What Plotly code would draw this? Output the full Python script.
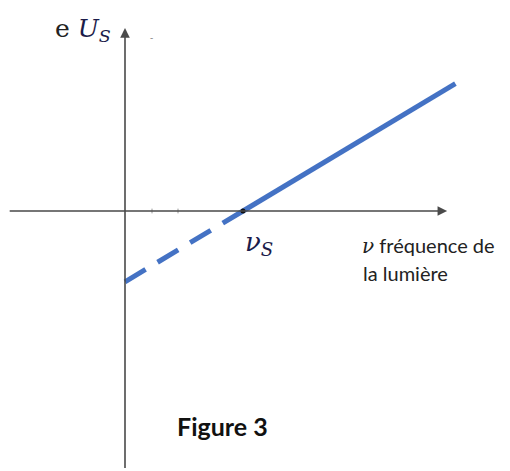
import plotly.graph_objects as go

# Threshold frequency and stopping-voltage line (arbitrary units)
nu_s = 1.0
dashed_nu = [0.0, 1.0]
dashed_U = [-0.6, 0.0]
solid_nu = [1.0, 2.8]
solid_U = [0.0, 1.08]

W, H = 510, 471
x_range = [-125 / 118, 385 / 118]
y_range = [-260 / 118, 211 / 118]

blue = "#4472c4"
axis_col = "#4a4a4a"

fig = go.Figure()

fig.add_trace(go.Scatter(x=dashed_nu, y=dashed_U, mode="lines",
                         line=dict(color=blue, width=5, dash="24px,14px"),
                         hoverinfo="skip", showlegend=False))
fig.add_trace(go.Scatter(x=solid_nu, y=solid_U, mode="lines",
                         line=dict(color=blue, width=5),
                         hoverinfo="skip", showlegend=False))
# point at threshold frequency
fig.add_trace(go.Scatter(x=[nu_s], y=[0], mode="markers",
                         marker=dict(color="#111", size=5),
                         hoverinfo="skip", showlegend=False))

# axes drawn as arrows
fig.add_annotation(x=2.73, y=0, ax=-0.99, ay=0, xref="x", yref="y",
                   axref="x", ayref="y", text="", showarrow=True,
                   arrowhead=2, arrowsize=1.2, arrowwidth=1.6, arrowcolor=axis_col)
fig.add_annotation(x=0, y=1.55, ax=0, ay=-2.19, xref="x", yref="y",
                   axref="x", ayref="y", text="", showarrow=True,
                   arrowhead=2, arrowsize=1.2, arrowwidth=1.6, arrowcolor=axis_col)

# small tick marks on the frequency axis
for tx in [27 / 118, 53 / 118]:
    fig.add_shape(type="line", x0=tx, x1=tx, y0=-0.02, y1=0.02,
                  xref="x", yref="y", line=dict(color="#999", width=1))


def px(xp, yp):
    return xp / W, 1 - yp / H


ax_, ay_ = px(53, 30)
fig.add_annotation(x=ax_, y=ay_, xref="paper", yref="paper", xanchor="left",
                   yanchor="middle", showarrow=False,
                   text="<span style='color:#222'>e </span><i>U<sub>S</sub></i>",
                   font=dict(family="DejaVu Serif", size=25, color="#1c1c4a"))
ax_, ay_ = px(148, 28)
fig.add_annotation(x=ax_, y=ay_, xref="paper", yref="paper", showarrow=False,
                   text="-", font=dict(size=10, color="#888"))

ax_, ay_ = px(243, 243)
fig.add_annotation(x=ax_, y=ay_, xref="paper", yref="paper", xanchor="left",
                   yanchor="middle", showarrow=False,
                   text="<i>ν<sub>S</sub></i>",
                   font=dict(family="DejaVu Serif", size=26, color="#1c1c4a"))

ax_, ay_ = px(360, 245)
fig.add_annotation(x=ax_, y=ay_, xref="paper", yref="paper", xanchor="left",
                   yanchor="middle", showarrow=False,
                   text="<i style='font-family:DejaVu Serif'>ν</i> fréquence de",
                   font=dict(family="Lato", size=20, color="#222"))
ax_, ay_ = px(361, 273)
fig.add_annotation(x=ax_, y=ay_, xref="paper", yref="paper", xanchor="left",
                   yanchor="middle", showarrow=False,
                   text="la lumière",
                   font=dict(family="Lato", size=20, color="#222"))

ax_, ay_ = px(175, 426)
fig.add_annotation(x=ax_, y=ay_, xref="paper", yref="paper", xanchor="left",
                   yanchor="middle", showarrow=False,
                   text="<b>Figure 3</b>",
                   font=dict(family="Lato", size=25, color="#111"))

fig.update_layout(
    width=W, height=H, margin=dict(l=0, r=0, t=0, b=0),
    paper_bgcolor="white", plot_bgcolor="white",
    xaxis=dict(range=x_range, visible=False, fixedrange=True),
    yaxis=dict(range=y_range, visible=False, fixedrange=True),
)

fig.write_html("out.html")
